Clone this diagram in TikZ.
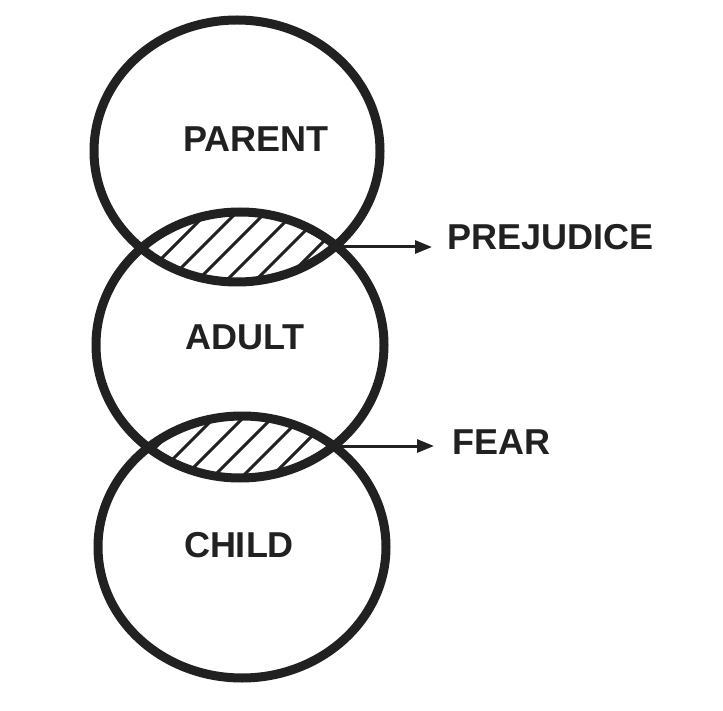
\documentclass[tikz,border=0pt]{standalone}
\usepackage{fontspec}
\setmainfont{Liberation Sans}
\usetikzlibrary{shapes.geometric,arrows.meta}
\begin{document}
\begin{tikzpicture}[x=1pt,y=-1pt,
  ring/.style={draw=black!87, ellipse, line width=9pt, inner sep=0pt, outer sep=0pt},
  lbl/.style={font=\fontsize{36}{40}\selectfont\bfseries, text=black!87, inner sep=0pt},
  hatchline/.style={line width=3pt, draw=black!87},
  arr/.style={line width=3pt, draw=black!87, fill=black!87, -{Triangle[length=17pt,width=13pt]}}]
\useasboundingbox (0,0) rectangle (723,711);
\fill[white] (0,0) rectangle (723,711);
% hatched overlaps
\begin{scope}
  \clip (237,151) ellipse [x radius=143, y radius=131];
  \clip (240,345) ellipse [x radius=144, y radius=133];
  \foreach \k in {-3,...,9} \draw[hatchline] ({420+29*\k},0) -- ({420+29*\k-450},450);
\end{scope}
\begin{scope}
  \clip (240,345) ellipse [x radius=144, y radius=133];
  \clip (242,547) ellipse [x radius=144, y radius=131];
  \foreach \k in {-3,...,9} \draw[hatchline] ({603+29*\k},0) -- ({603+29*\k-650},650);
\end{scope}
% circles
\node[ring, minimum width=286pt, minimum height=262pt] (parent) at (237,151) {};
\node[ring, minimum width=288pt, minimum height=266pt] (adult) at (240,345) {};
\node[ring, minimum width=288pt, minimum height=262pt] (child) at (242,547) {};
% labels
\node[lbl] (tparent) at (256,139) {PARENT};
\node[lbl] (tadult) at (245,337) {ADULT};
\node[lbl] (tchild) at (239,545) {CHILD};
\node[lbl, anchor=west] (prej) at (447,237) {PREJUDICE};
\node[lbl, anchor=west] (fear) at (452,442) {FEAR};
% arrows
\coordinate (pa) at (338,247);
\coordinate (pa tip) at (432,247);
\coordinate (ac) at (338,446);
\coordinate (ac tip) at (434,446);
\draw[arr] (pa) -- (pa tip);
\draw[arr] (ac) -- (ac tip);
\end{tikzpicture}
\end{document}
